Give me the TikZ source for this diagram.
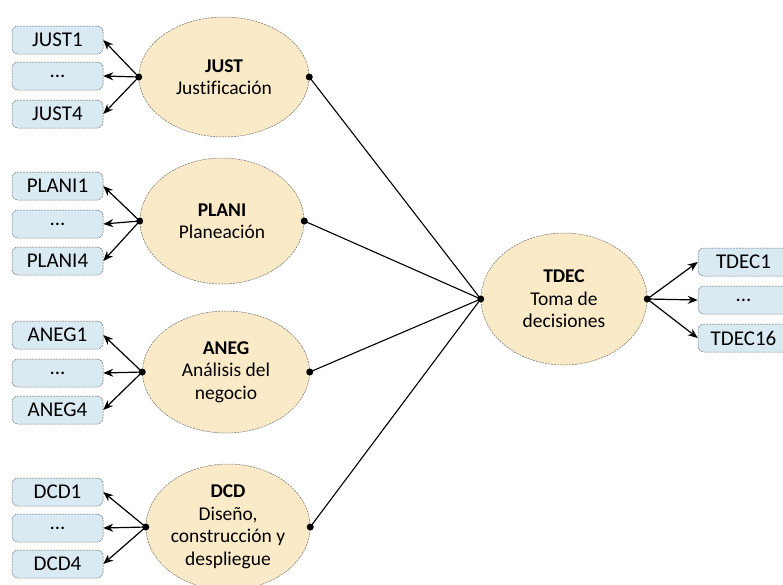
\documentclass[tikz,border=0pt]{standalone}
\usepackage{fontspec}
\setmainfont{Carlito}[Ligatures=NoCommon]
\usetikzlibrary{shapes.geometric,arrows.meta}
\definecolor{ellfill}{RGB}{250,234,200}
\definecolor{boxfill}{RGB}{218,234,243}
\definecolor{bord}{RGB}{110,110,110}
\tikzset{
  lat/.style={ellipse, draw=bord, dash pattern=on 2pt off 1pt, line width=0.5pt, fill=ellfill, inner sep=0pt, align=center, font=\fontsize{19.5}{22.5}\selectfont},
  ind/.style={rectangle, rounded corners=6pt, draw=bord, dash pattern=on 2pt off 1pt, line width=0.5pt, fill=boxfill, minimum width=91pt, minimum height=28pt, inner sep=0pt, font=\fontsize{21}{22}\selectfont},
  arr/.style={-{Stealth[length=10pt,width=8pt]}, line width=1.2pt},
  lnk/.style={line width=1.1pt},
  dot/.style={fill=black}
}
\begin{document}
\begin{tikzpicture}[x=1pt,y=-1pt]
\useasboundingbox (0,0) rectangle (783,584);
% latent ellipses
\node[lat, minimum width=170pt, minimum height=120pt] (just) at (224,77) {\textbf{JUST}\\Justificación};
\node[lat, minimum width=164pt, minimum height=126pt] (plani) at (222,221) {\textbf{PLANI}\\Planeación};
\node[lat, minimum width=167pt, minimum height=122pt] (aneg) at (226,372) {\textbf{ANEG}\\Análisis del\\negocio};
\node[lat, minimum width=164pt, minimum height=126pt] (dcd) at (228,527) {\textbf{DCD}\\Diseño,\\construcción y\\despliegue};
\node[lat, minimum width=166pt, minimum height=132pt] (tdec) at (564,299) {\textbf{TDEC}\\Toma de\\decisiones};
% indicator boxes
\node[ind] (j1) at (57.5,40) {JUST1};
\node[ind] (j2) at (57.5,76) {...};
\node[ind] (j3) at (57.5,114) {JUST4};
\node[ind] (p1) at (57.5,186) {PLANI1};
\node[ind] (p2) at (57.5,224) {...};
\node[ind] (p3) at (57.5,261) {PLANI4};
\node[ind] (a1) at (57.5,335) {ANEG1};
\node[ind] (a2) at (57.5,373) {...};
\node[ind] (a3) at (57.5,410) {ANEG4};
\node[ind] (d1) at (57.5,492) {DCD1};
\node[ind] (d2) at (57.5,528) {...};
\node[ind] (d3) at (57.5,564) {DCD4};
\node[ind] (t1) at (743.5,262) {TDEC1};
\node[ind] (t2) at (743.5,300) {...};
\node[ind] (t3) at (743.5,338) {TDEC16};
% anchor points
\coordinate (justL) at (just.west);
\coordinate (justR) at (just.east);
\coordinate (planiL) at (plani.west);
\coordinate (planiR) at (plani.east);
\coordinate (anegL) at (aneg.west);
\coordinate (anegR) at (aneg.east);
\coordinate (dcdL) at (dcd.west);
\coordinate (dcdR) at (dcd.east);
\coordinate (tdecL) at (tdec.west);
\coordinate (tdecR) at (tdec.east);
% arrows to indicators
\foreach \s/\a/\b/\c in {justL/j1/j2/j3, planiL/p1/p2/p3, anegL/a1/a2/a3, dcdL/d1/d2/d3}{
  \draw[arr] (\s) -- (\a.east);
  \draw[arr] (\s) -- (\b.east);
  \draw[arr] (\s) -- (\c.east);
}
\foreach \b in {t1,t2,t3}{
  \draw[arr] (tdecR) -- (\b.west);
}
% structural links
\foreach \s in {justR, planiR, anegR, dcdR}{
  \draw[lnk] (\s) -- (tdecL);
}
% dots
\foreach \s in {justL,justR,planiL,planiR,anegL,anegR,dcdL,dcdR,tdecL,tdecR}{
  \fill[dot] (\s) circle (3.5pt);
}
\end{tikzpicture}
\end{document}
